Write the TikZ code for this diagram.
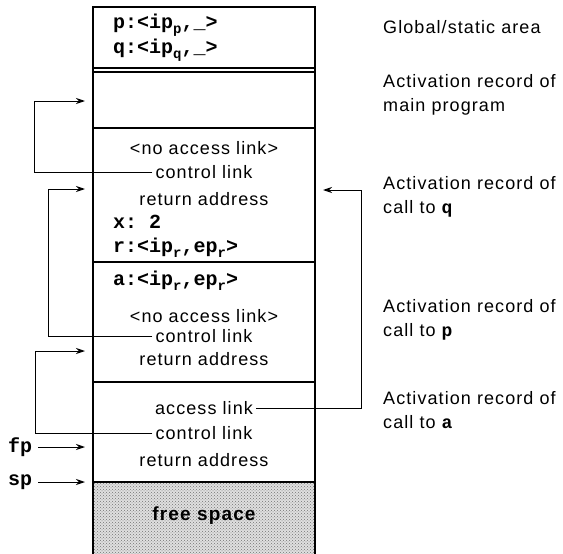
\documentclass[tikz,border=0pt]{standalone}
\usepackage{fontspec}
\setmainfont{Liberation Sans}[LetterSpace=6]
\setmonofont{Liberation Mono}
\usetikzlibrary{patterns,arrows.meta}

\newcommand{\lowidx}[1]{\raisebox{-.45ex}{\fontsize{14}{14}\selectfont #1}}
\newcommand{\lbl}{\fontsize{18}{24}\selectfont}
\newcommand{\code}{\fontsize{20}{22}\selectfont\ttfamily\bfseries}

\begin{document}
\begin{tikzpicture}[x=1pt,y=-1pt,
    box/.style={line width=1.3pt},
    lnk/.style={line width=1pt,-{Stealth[length=9pt,width=6pt]}},
    code/.style={anchor=west,inner sep=0pt,font=\code},
    txt/.style={inner sep=3pt,font=\lbl},
    side/.style={anchor=west,align=left,inner sep=0pt,font=\lbl}]
    \useasboundingbox (0,0) rectangle (563,554);
    % free space
    \fill[gray!25] (93,482) rectangle (315,554);
    \fill[pattern=crosshatch dots,pattern color=gray!90!black] (93,482) rectangle (315,554);
    \node[font=\fontsize{19}{19}\selectfont\bfseries] (free) at (204,516) {free space};
    % stack frame outline
    \draw[box] (93,554) -- (93,7) -- (315,7) -- (315,554);
    \foreach \y in {68,72,128,262,382,482}
        \draw[box] (93,\y) -- (315,\y);
    % global area
    \node[code] (gp) at (113,25) {p:<ip\lowidx{p},\_>};
    \node[code] (gq) at (113,50) {q:<ip\lowidx{q},\_>};
    % call to q
    \node[txt] (na1) at (204,148) {<no access link>};
    \node[txt] (cl1) at (204,172) {control link};
    \node[txt] (ra1) at (204,199) {return address};
    \node[code] (vx) at (113,222) {x: 2};
    \node[code] (vr) at (113,248) {r:<ip\lowidx{r},ep\lowidx{r}>};
    % call to p
    \node[code] (va) at (113,281) {a:<ip\lowidx{r},ep\lowidx{r}>};
    \node[txt] (na2) at (204,316) {<no access link>};
    \node[txt] (cl2) at (204,336) {control link};
    \node[txt] (ra2) at (204,359) {return address};
    % call to a
    \node[txt] (al) at (204,408) {access link};
    \node[txt] (cl3) at (204,433) {control link};
    \node[txt] (ra3) at (204,460) {return address};
    % side labels
    \node[side] (s0) at (383,27) {Global/static area};
    \node[side] (s1) at (383,94.5) {Activation record of\\main program};
    \node[side] (s2) at (383,197) {Activation record of\\call to {\ttfamily\bfseries q}};
    \node[side] (s3) at (383,320) {Activation record of\\call to {\ttfamily\bfseries p}};
    \node[side] (s4) at (383,410.5) {Activation record of\\call to {\ttfamily\bfseries a}};
    % links
    \coordinate (m1) at (85,101);
    \coordinate (m2) at (85,189);
    \coordinate (m3) at (85,351);
    \coordinate (m4) at (323,190);
    \draw[lnk] (cl1.west) -| (34,101) -- (m1);
    \draw[lnk] (cl2.west) -| (48,189) -- (m2);
    \draw[lnk] (cl3.west) -| (35,351) -- (m3);
    \draw[lnk] (al.east) -| (361,190) -- (m4);
    % frame and stack pointers
    \node[code,inner sep=3pt] (fp) at (5,447) {fp};
    \node[code,inner sep=3pt] (sp) at (5,482) {sp};
    \coordinate (fpt) at (85,447);
    \coordinate (spt) at (85,482);
    \draw[lnk] (fp.east) ++(3,0) -- (fpt);
    \draw[lnk] (sp.east) ++(3,0) -- (spt);
\end{tikzpicture}
\end{document}
